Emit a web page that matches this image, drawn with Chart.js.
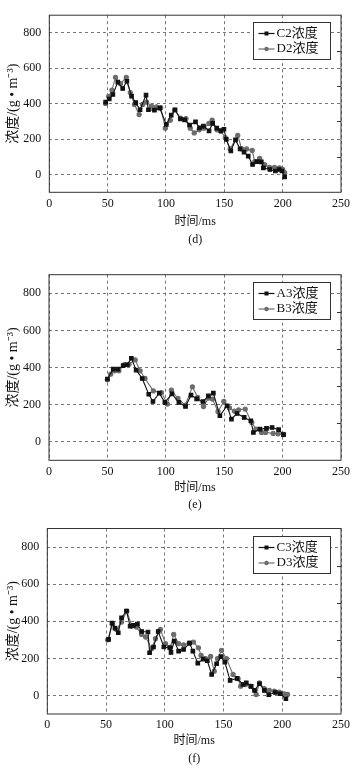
<!DOCTYPE html>
<html>
<head>
<meta charset="utf-8">
<script src="https://cdn.jsdelivr.net/npm/chart.js@4.4.0/dist/chart.umd.min.js"></script>
<style>
  body { margin: 0; background: #fff; width: 354px; height: 768px; position: relative; overflow: hidden; }
  .painel { position: absolute; left: 0; width: 354px; }
</style>
</head>
<body>
<div class="painel" style="top:0;height:250px"><canvas id="graficoD"></canvas></div>
<div class="painel" style="top:258px;height:256px"><canvas id="graficoE"></canvas></div>
<div class="painel" style="top:512px;height:256px"><canvas id="graficoF"></canvas></div>
<script>
// eixos
const xTicks = [0, 50, 100, 150, 200, 250];
const yTicks = [0, 200, 400, 600, 800];
const yMinor = [100, 300, 500, 700];

// (d)
const tempoC2 = [48.3, 51.4, 54.5, 58.7, 62.9, 66.5, 70.5, 74.1, 77.8, 82.9, 85.0, 90.1, 94.7, 100.3, 104.5, 107.8, 112.4, 116.0, 120.2, 125.3, 128.7, 132.1, 136.9, 140.0, 143.5, 147.0, 149.7, 151.7, 155.6, 159.6, 163.5, 166.9, 170.5, 174.2, 177.8, 181.7, 183.5, 189.0, 193.8, 197.0, 199.4, 201.7];
const valorC2 = [409, 427, 452, 522, 486, 527, 443, 406, 366, 449, 366, 364, 375, 283, 336, 366, 314, 309, 280, 298, 264, 274, 247, 289, 262, 248, 256, 199, 133, 196, 145, 127, 104, 57, 73, 72, 38, 29, 20, 29, 20, -13];
const tempoD2 = [48.3, 50.9, 53.7, 56.7, 61.0, 66.0, 69.4, 73.0, 77.0, 80.0, 83.4, 87.6, 91.9, 95.5, 99.4, 103.7, 107.3, 112.4, 117.1, 120.8, 124.2, 128.4, 132.6, 136.8, 139.6, 143.8, 147.2, 150.8, 155.0, 161.5, 164.9, 169.1, 173.9, 176.1, 180.3, 184.6, 188.8, 193.0, 197.2, 200.0, 201.7];
const valorD2 = [402, 441, 477, 549, 513, 549, 463, 396, 339, 396, 409, 387, 382, 378, 262, 307, 364, 319, 316, 262, 235, 253, 262, 289, 307, 253, 244, 208, 145, 221, 145, 145, 136, 73, 91, 56, 41, 41, 38, 29, 11];

// (e)
const tempoA3 = [50.0, 55.0, 59.0, 63.5, 67.0, 70.5, 74.6, 79.8, 85.4, 89.0, 94.4, 99.2, 105.3, 111.2, 116.9, 121.6, 126.4, 132.0, 136.5, 140.7, 146.3, 152.5, 156.2, 161.0, 167.1, 172.8, 175.0, 180.6, 186.2, 191.0, 196.6, 200.8];
const valorA3 = [338, 391, 391, 410, 415, 450, 386, 341, 256, 217, 262, 212, 258, 212, 190, 251, 231, 217, 247, 262, 140, 194, 122, 152, 131, 113, 50, 68, 72, 77, 65, 38];
const tempoB3 = [50.0, 52.8, 56.2, 59.8, 64.6, 68.5, 73.8, 78.0, 82.2, 89.3, 96.3, 101.4, 104.8, 110.4, 116.6, 122.8, 127.3, 132.3, 136.5, 139.9, 144.7, 149.7, 154.5, 158.7, 162.4, 168.0, 173.6, 177.2, 182.0, 185.4, 191.9, 196.1, 200.8];
const valorB3 = [334, 364, 382, 382, 416, 418, 441, 382, 341, 274, 265, 203, 278, 233, 197, 296, 239, 190, 235, 230, 163, 217, 183, 165, 172, 176, 104, 68, 50, 50, 45, 43, 39];

// (f)
const tempoC3 = [52.2, 55.1, 57.6, 60.4, 63.2, 67.4, 70.5, 73.3, 76.7, 80.3, 85.7, 87.1, 90.4, 94.4, 99.2, 104.2, 105.3, 108.1, 111.8, 116.0, 121.1, 123.9, 128.1, 132.6, 136.2, 139.9, 144.1, 147.8, 151.1, 155.6, 161.5, 166.6, 169.4, 173.6, 176.4, 180.6, 184.8, 188.5, 194.1, 198.3, 203.1];
const valorC3 = [302, 390, 363, 338, 419, 455, 374, 378, 385, 345, 342, 230, 261, 345, 261, 257, 232, 293, 239, 248, 282, 239, 174, 196, 187, 113, 171, 209, 180, 81, 92, 59, 68, 49, 27, 63, 27, 4, 16, 9, -18];
const tempoD3 = [51.4, 55.6, 59.0, 63.2, 67.7, 71.9, 75.8, 80.3, 83.7, 88.8, 92.1, 96.3, 100.6, 104.8, 107.6, 111.8, 116.0, 120.8, 124.4, 128.7, 130.9, 134.8, 139.0, 142.1, 144.9, 148.3, 152.5, 158.1, 162.4, 164.6, 168.5, 172.8, 177.8, 180.6, 184.8, 189.0, 193.3, 197.5, 201.7, 204.5];
const valorD3 = [300, 387, 356, 396, 455, 374, 369, 329, 315, 252, 306, 356, 279, 261, 329, 279, 273, 282, 288, 257, 216, 198, 210, 131, 198, 243, 198, 113, 90, 50, 59, 50, 5, 68, 36, 27, 23, 18, 9, 5];

const FONTE = '"Liberation Serif", "Noto Sans CJK SC", serif';
const PRETO = '#111111';
const CINZA = '#6c6c6c';

function pontos(xs, ys) {
  return xs.map((x, i) => ({ x: x, y: ys[i] }));
}

// moldura do grafico + marcas menores no lado direito
const moldura = {
  id: 'moldura',
  afterDatasetsDraw(chart) {
    const { ctx, chartArea } = chart;
    const y = chart.scales.y;
    ctx.save();
    ctx.strokeStyle = '#333';
    ctx.lineWidth = 1;
    ctx.strokeRect(chartArea.left, chartArea.top, chartArea.right - chartArea.left, chartArea.bottom - chartArea.top);
    ctx.beginPath();
    yMinor.forEach(v => {
      const py = Math.round(y.getPixelForValue(v)) + 0.5;
      ctx.moveTo(chartArea.right, py);
      ctx.lineTo(chartArea.right - 4, py);
    });
    ctx.stroke();
    ctx.restore();
  }
};

// legenda em caixa dentro da area
const legendaCaixa = {
  id: 'legendaCaixa',
  afterDraw(chart) {
    const { ctx, chartArea } = chart;
    const w = 77, h = 37;
    const x = Math.round(chartArea.right - 11 - w) + 0.5;
    const y = Math.round(chartArea.top + 7) + 0.5;
    ctx.save();
    ctx.fillStyle = '#fff';
    ctx.fillRect(x, y, w, h);
    ctx.strokeStyle = '#333';
    ctx.lineWidth = 1;
    ctx.strokeRect(x, y, w, h);
    ctx.font = '13px ' + FONTE;
    ctx.textBaseline = 'middle';
    chart.data.datasets.forEach((ds, i) => {
      const ly = y + 11 + i * 15.5;
      ctx.strokeStyle = ds.borderColor;
      ctx.lineWidth = 1.2;
      ctx.beginPath();
      ctx.moveTo(x + 5, ly);
      ctx.lineTo(x + 21, ly);
      ctx.stroke();
      ctx.fillStyle = ds.pointBackgroundColor;
      if (ds.pointStyle === 'rect') {
        ctx.fillRect(x + 11, ly - 2, 4, 4);
      } else {
        ctx.beginPath();
        ctx.arc(x + 13, ly, 2.2, 0, Math.PI * 2);
        ctx.fill();
      }
      ctx.fillStyle = PRETO;
      ctx.fillText(ds.label, x + 23, ly);
    });
    ctx.restore();
  }
};

function criarGrafico(id, cfg) {
  const ctx = document.getElementById(id).getContext('2d');
  new Chart(ctx, {
    type: 'line',
    data: {
      datasets: [{
        label: cfg.nomes[0],
        data: pontos(cfg.series[0][0], cfg.series[0][1]),
        borderColor: PRETO,
        backgroundColor: PRETO,
        pointBackgroundColor: PRETO,
        pointBorderColor: PRETO,
        pointStyle: 'rect',
        pointRadius: 2.5,
        borderWidth: 1.1,
        tension: 0
      }, {
        label: cfg.nomes[1],
        data: pontos(cfg.series[1][0], cfg.series[1][1]),
        borderColor: CINZA,
        backgroundColor: CINZA,
        pointBackgroundColor: CINZA,
        pointBorderColor: CINZA,
        pointStyle: 'circle',
        pointRadius: 2.1,
        borderWidth: 1.1,
        tension: 0
      }]
    },
    options: {
      responsive: true,
      maintainAspectRatio: false,
      animation: false,
      layout: {
        padding: { top: cfg.padTop, right: cfg.padRight, bottom: cfg.padBottom, left: 0 }
      },
      plugins: {
        legend: { display: false },
        tooltip: { enabled: false }
      },
      scales: {
        x: {
          type: 'linear',
          min: 0,
          max: 250,
          afterBuildTicks: s => { s.ticks = xTicks.map(v => ({ value: v })); },
          afterFit: s => { s.height = cfg.xAltura; },
          grid: { color: '#555', lineWidth: 0.8, drawTicks: false },
          border: { display: false, dash: [3, 3] },
          ticks: { padding: 4, color: PRETO, font: { family: FONTE, size: 12 } },
          title: {
            display: true,
            text: ['时间/ms', cfg.letra],
            color: PRETO,
            padding: 0,
            font: { family: FONTE, size: 12, lineHeight: cfg.linha + 'px' }
          }
        },
        y: {
          min: -100,
          max: 900,
          afterBuildTicks: s => { s.ticks = yTicks.map(v => ({ value: v })); },
          afterFit: s => { s.width = cfg.yLargura; },
          grid: { color: '#555', lineWidth: 0.8, drawTicks: false },
          border: { display: false, dash: [3, 3] },
          ticks: { padding: 8, color: PRETO, font: { family: FONTE, size: 12 } },
          title: {
            display: true,
            text: '浓度/(g • m⁻³)',
            color: PRETO,
            padding: { top: 5, bottom: 0 },
            font: { family: FONTE, size: 14 }
          }
        }
      }
    },
    plugins: [moldura, legendaCaixa]
  });
}

criarGrafico('graficoD', {
  nomes: ['C2浓度', 'D2浓度'],
  series: [[tempoC2, valorC2], [tempoD2, valorD2]],
  letra: '(d)', linha: 18,
  padTop: 6.4, padRight: 9, padBottom: 1,
  xAltura: 56.7, yLargura: 49.3
});

criarGrafico('graficoE', {
  nomes: ['A3浓度', 'B3浓度'],
  series: [[tempoA3, valorA3], [tempoB3, valorB3]],
  letra: '(e)', linha: 17,
  padTop: 16.7, padRight: 9, padBottom: 0.5,
  xAltura: 53.2, yLargura: 49
});

criarGrafico('graficoF', {
  nomes: ['C3浓度', 'D3浓度'],
  series: [[tempoC3, valorC3], [tempoD3, valorD3]],
  letra: '(f)', linha: 18,
  padTop: 16.5, padRight: 10, padBottom: 0,
  xAltura: 54, yLargura: 47.3
});
</script>
</body>
</html>
